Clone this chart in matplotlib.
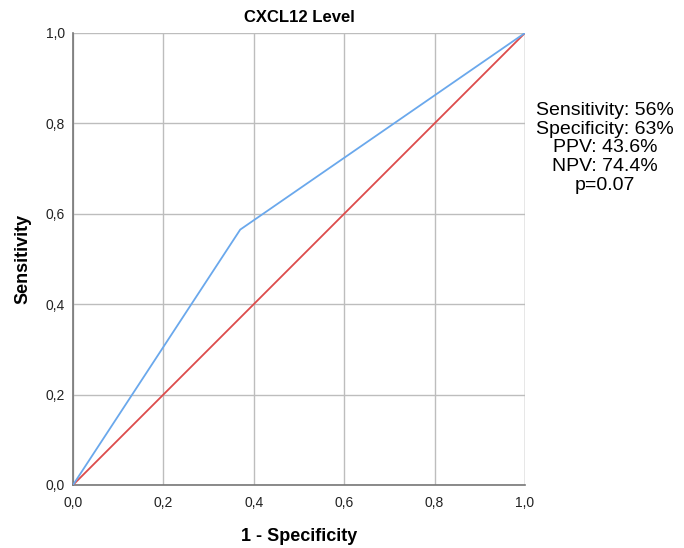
import matplotlib
matplotlib.use('Agg')
import matplotlib.pyplot as plt

plt.rcParams['font.family'] = ['Liberation Sans', 'DejaVu Sans']

# ROC curve points
roc_x = [0.0, 0.37, 1.0]
roc_y = [0.0, 0.565, 1.0]
# reference line
ref_x = [0.0, 1.0]
ref_y = [0.0, 1.0]

ticks = [0.0, 0.2, 0.4, 0.6, 0.8, 1.0]
tick_labels = ['0,0', '0,2', '0,4', '0,6', '0,8', '1,0']

stats = ['Sensitivity: 56%', 'Specificity: 63%', 'PPV: 43.6%', 'NPV: 74.4%', 'p=0.07']

fig = plt.figure(figsize=(6.84, 5.48), dpi=100)
ax = fig.add_axes([0.1067, 0.115, 0.6608, 0.8248])

ax.plot(ref_x, ref_y, color='#dd4b4b', lw=1.3, zorder=3)
ax.plot(roc_x, roc_y, color='#6aa8ec', lw=1.3, zorder=4)

ax.set_xlim(0, 1)
ax.set_ylim(0, 1)
ax.set_xticks(ticks)
ax.set_yticks(ticks)
ax.set_xticklabels(tick_labels)
ax.set_yticklabels(tick_labels)
ax.tick_params(length=0, labelsize=10, colors='#222222', pad=6)
ax.tick_params(axis='x', pad=8)

ax.grid(True, color='#bdbdbd', lw=1)
for s in ['top', 'right']:
    ax.spines[s].set_visible(False)
for s in ['left', 'bottom']:
    ax.spines[s].set_color('#777777')
    ax.spines[s].set_linewidth(1.2)
ax.axvline(1.0, color='#bdbdbd', lw=1, zorder=1)

ax.set_title('CXCL12 Level', fontsize=12, fontweight='bold', pad=8)
ax.set_xlabel('1 - Specificity', fontsize=13, fontweight='bold', labelpad=13)
ax.set_ylabel('Sensitivity', fontsize=13, fontweight='bold', labelpad=10)

fig.text(605 / 684, 1 - 148 / 548, '\n'.join(stats), ha='center', va='center',
         fontsize=14, linespacing=1.15)

fig.savefig('out.png', dpi=100)
